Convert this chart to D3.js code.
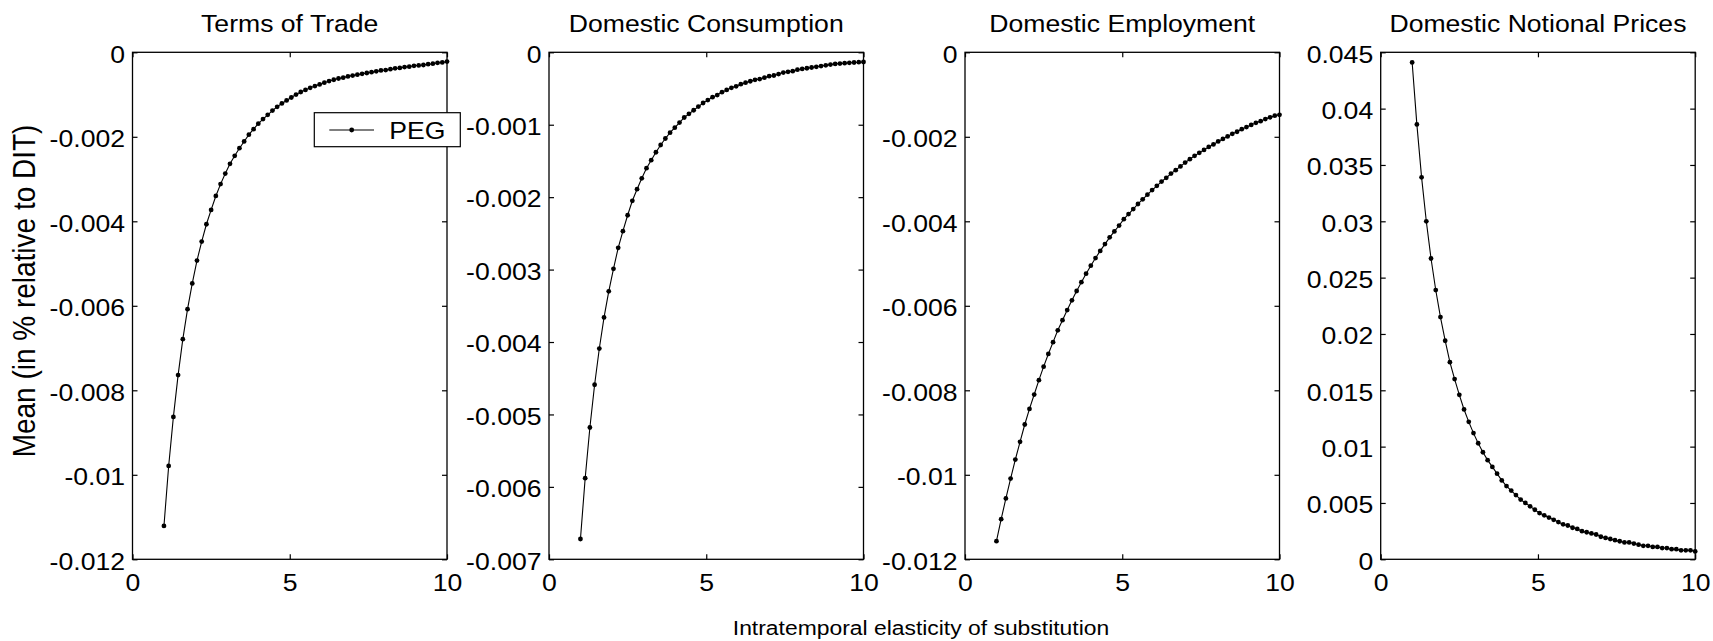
<!DOCTYPE html>
<html>
<head>
<meta charset="utf-8">
<script src="https://cdn.jsdelivr.net/npm/d3@7"></script>
<style>
  body { margin: 0; background: #fff; }
  text { font-family: "Liberation Sans", Arial, Helvetica, sans-serif; fill: #000; }
</style>
</head>
<body>
<svg id="chart" width="1713" height="641"></svg>
<script>
// Intratemporal elasticity of substitution grid
const elasticity = [1, 1.15, 1.3, 1.45, 1.6, 1.75, 1.9, 2.05, 2.2, 2.35, 2.5, 2.65, 2.8, 2.95, 3.1,
  3.25, 3.4, 3.55, 3.7, 3.85, 4, 4.15, 4.3, 4.45, 4.6, 4.75, 4.9, 5.05, 5.2, 5.35, 5.5, 5.65, 5.8,
  5.95, 6.1, 6.25, 6.4, 6.55, 6.7, 6.85, 7, 7.15, 7.3, 7.45, 7.6, 7.75, 7.9, 8.05, 8.2, 8.35, 8.5,
  8.65, 8.8, 8.95, 9.1, 9.25, 9.4, 9.55, 9.7, 9.85, 10];

// Mean under PEG, in % relative to DIT
const termsOfTrade = [-0.01121, -0.00979, -0.00863, -0.00764, -0.00679, -0.00608, -0.00547, -0.00493,
  -0.00448, -0.00407, -0.00373, -0.00340, -0.00312, -0.00287, -0.00264, -0.00245, -0.00227, -0.00211,
  -0.00195, -0.00182, -0.00169, -0.00158, -0.00148, -0.00138, -0.00129, -0.00121, -0.00114, -0.00107,
  -0.00100, -0.00094, -0.00089, -0.00084, -0.00080, -0.00076, -0.00072, -0.00068, -0.00065, -0.00062,
  -0.00060, -0.00057, -0.00055, -0.00053, -0.00051, -0.00049, -0.00047, -0.00045, -0.00043, -0.00042,
  -0.00040, -0.00038, -0.00037, -0.00035, -0.00034, -0.00032, -0.00031, -0.00030, -0.00028, -0.00027,
  -0.00025, -0.00024, -0.00022];

const domesticConsumption = [-0.00672, -0.00588, -0.00518, -0.00459, -0.00409, -0.00366, -0.00330,
  -0.00299, -0.00270, -0.00247, -0.00225, -0.00205, -0.00189, -0.00174, -0.00160, -0.00149, -0.00138,
  -0.00128, -0.00119, -0.00111, -0.00104, -0.00097, -0.00090, -0.00085, -0.00080, -0.00075, -0.00070,
  -0.00066, -0.00062, -0.00059, -0.00055, -0.00052, -0.00049, -0.00047, -0.00044, -0.00042, -0.00040,
  -0.00038, -0.00037, -0.00035, -0.00033, -0.00032, -0.00030, -0.00028, -0.00027, -0.00026, -0.00024,
  -0.00023, -0.00022, -0.00021, -0.00020, -0.00019, -0.00018, -0.00017, -0.00016, -0.000155, -0.000150,
  -0.000145, -0.000141, -0.000137, -0.000134];

const domesticEmployment = [-0.01157, -0.01105, -0.01056, -0.01009, -0.00964, -0.00922, -0.00881,
  -0.00844, -0.00810, -0.00776, -0.00744, -0.00714, -0.00686, -0.00658, -0.00634, -0.00610, -0.00587,
  -0.00565, -0.00544, -0.00524, -0.00505, -0.00487, -0.00470, -0.00454, -0.00438, -0.00424, -0.00410,
  -0.00395, -0.00383, -0.00371, -0.00359, -0.00348, -0.00337, -0.00326, -0.00316, -0.00306, -0.00297,
  -0.00287, -0.00279, -0.00270, -0.00261, -0.00253, -0.00245, -0.00238, -0.00231, -0.00224, -0.00218,
  -0.00211, -0.00205, -0.00199, -0.00193, -0.00188, -0.00182, -0.00177, -0.00172, -0.00167, -0.00163,
  -0.00158, -0.00154, -0.00150, -0.00148];

const domesticNotionalPrices = [0.0441, 0.0386, 0.0339, 0.0300, 0.0267, 0.0239, 0.0215, 0.0194,
  0.0175, 0.0160, 0.0146, 0.0133, 0.0122, 0.0112, 0.0103, 0.0095, 0.0088, 0.0082, 0.0076, 0.0070,
  0.0065, 0.0061, 0.0057, 0.0053, 0.0050, 0.0047, 0.0044, 0.0041, 0.0039, 0.0037, 0.0035, 0.0033,
  0.0031, 0.0030, 0.0028, 0.0027, 0.0025, 0.0024, 0.0023, 0.0022, 0.0020, 0.0019, 0.0018, 0.0017,
  0.0016, 0.0015, 0.0015, 0.0014, 0.0013, 0.0012, 0.0012, 0.0011, 0.0011, 0.0010, 0.0010, 0.0009,
  0.0009, 0.0008, 0.0008, 0.0008, 0.0007];

// Axis ticks
const xTicks = [0, 5, 10];
const totTicks = [0, -0.002, -0.004, -0.006, -0.008, -0.01, -0.012];
const consTicks = [0, -0.001, -0.002, -0.003, -0.004, -0.005, -0.006, -0.007];
const empTicks = [0, -0.002, -0.004, -0.006, -0.008, -0.01, -0.012];
const priceTicks = [0, 0.005, 0.01, 0.015, 0.02, 0.025, 0.03, 0.035, 0.04, 0.045];

const titles = ["Terms of Trade", "Domestic Consumption", "Domestic Employment", "Domestic Notional Prices"];
const seriesName = "PEG";
const xLabel = "Intratemporal elasticity of substitution";
const yLabel = "Mean (in % relative to DIT)";

const panels = [
  { title: titles[0], values: termsOfTrade, ticks: totTicks, domain: [-0.012, 0] },
  { title: titles[1], values: domesticConsumption, ticks: consTicks, domain: [-0.007, 0] },
  { title: titles[2], values: domesticEmployment, ticks: empTicks, domain: [-0.012, 0] },
  { title: titles[3], values: domesticNotionalPrices, ticks: priceTicks, domain: [0, 0.045] }
];

// Layout
const panelLeft = [132.5, 549, 965, 1380.7];
const panelW = 314.5;
const plotTop = 52.3, plotBottom = 559.3;
const fontSize = 24.4;
const textStretch = 1.09;

const svg = d3.select("#chart");

// widen glyphs horizontally around each text anchor
function stretchText(sel) {
  sel.each(function () {
    const t = d3.select(this);
    const x = +t.attr("x") || 0, y = +t.attr("y") || 0;
    t.attr("transform", `translate(${x},${y}) scale(${textStretch},1) translate(${-x},${-y})`);
  });
}

panels.forEach((p, i) => {
  const x0 = panelLeft[i], x1 = x0 + panelW;
  const x = d3.scaleLinear().domain([0, 10]).range([x0, x1]);
  const y = d3.scaleLinear().domain(p.domain).range([plotBottom, plotTop]);
  const g = svg.append("g");

  // inward ticks on all four sides
  const fmt = d => String(d);
  const ax = [
    g.append("g").attr("transform", `translate(0,${plotBottom})`)
      .call(d3.axisBottom(x).tickValues(xTicks).tickFormat(fmt).tickSizeInner(-5).tickSizeOuter(0).tickPadding(14)),
    g.append("g").attr("transform", `translate(0,${plotTop})`)
      .call(d3.axisTop(x).tickValues(xTicks).tickFormat("").tickSizeInner(-5).tickSizeOuter(0)),
    g.append("g").attr("transform", `translate(${x0},0)`)
      .call(d3.axisLeft(y).tickValues(p.ticks).tickFormat(fmt).tickSizeInner(-5).tickSizeOuter(0).tickPadding(7.5)),
    g.append("g").attr("transform", `translate(${x1},0)`)
      .call(d3.axisRight(y).tickValues(p.ticks).tickFormat("").tickSizeInner(-5).tickSizeOuter(0))
  ];
  ax.forEach(a => {
    a.select(".domain").remove();
    a.selectAll(".tick line").attr("stroke", "#000").attr("stroke-width", 1.2);
    a.selectAll(".tick text").attr("font-size", fontSize).attr("font-family", null).attr("fill", "#000");
  });
  ax[0].selectAll(".tick text").attr("dy", "0.71em");
  ax[2].selectAll(".tick text").attr("dy", "0.40em");
  ax[0].selectAll(".tick text").call(stretchText);
  ax[2].selectAll(".tick text").call(stretchText);

  // box
  g.append("rect").attr("x", x0).attr("y", plotTop).attr("width", panelW).attr("height", plotBottom - plotTop)
    .attr("fill", "none").attr("stroke", "#000").attr("stroke-width", 1.3);

  // title
  g.append("text").attr("x", (x0 + x1) / 2).attr("y", 32.5).attr("text-anchor", "middle")
    .attr("font-size", fontSize).text(p.title).call(stretchText);

  // series
  const pts = elasticity.map((e, k) => [e, p.values[k]]);
  g.append("path").datum(pts)
    .attr("d", d3.line().x(d => x(d[0])).y(d => y(d[1])))
    .attr("fill", "none").attr("stroke", "#000").attr("stroke-width", 1.1);
  g.selectAll("circle.m").data(pts).join("circle").attr("class", "m")
    .attr("cx", d => x(d[0])).attr("cy", d => y(d[1])).attr("r", 2.4).attr("fill", "#000");
});

// legend (first panel)
const lg = svg.append("g");
lg.append("rect").attr("x", 314.3).attr("y", 112.7).attr("width", 146).attr("height", 34)
  .attr("fill", "#fff").attr("stroke", "#000").attr("stroke-width", 1.2);
lg.append("line").attr("x1", 329.3).attr("x2", 374).attr("y1", 130).attr("y2", 130)
  .attr("stroke", "#000").attr("stroke-width", 1.1);
lg.append("circle").attr("cx", 351.7).attr("cy", 130).attr("r", 2.4).attr("fill", "#000");
lg.append("text").attr("x", 389.3).attr("y", 130).attr("dy", "0.36em").attr("font-size", fontSize)
  .text(seriesName).call(stretchText);

// shared axis labels
svg.append("text").attr("x", 921).attr("y", 635).attr("text-anchor", "middle")
  .attr("font-size", 21).text(xLabel).call(stretchText);
svg.append("text").attr("text-anchor", "middle").attr("dy", "0.36em")
  .attr("transform", `translate(24,291) scale(${textStretch},1) rotate(-90)`)
  .attr("font-size", 28).text(yLabel);
</script>
</body>
</html>
